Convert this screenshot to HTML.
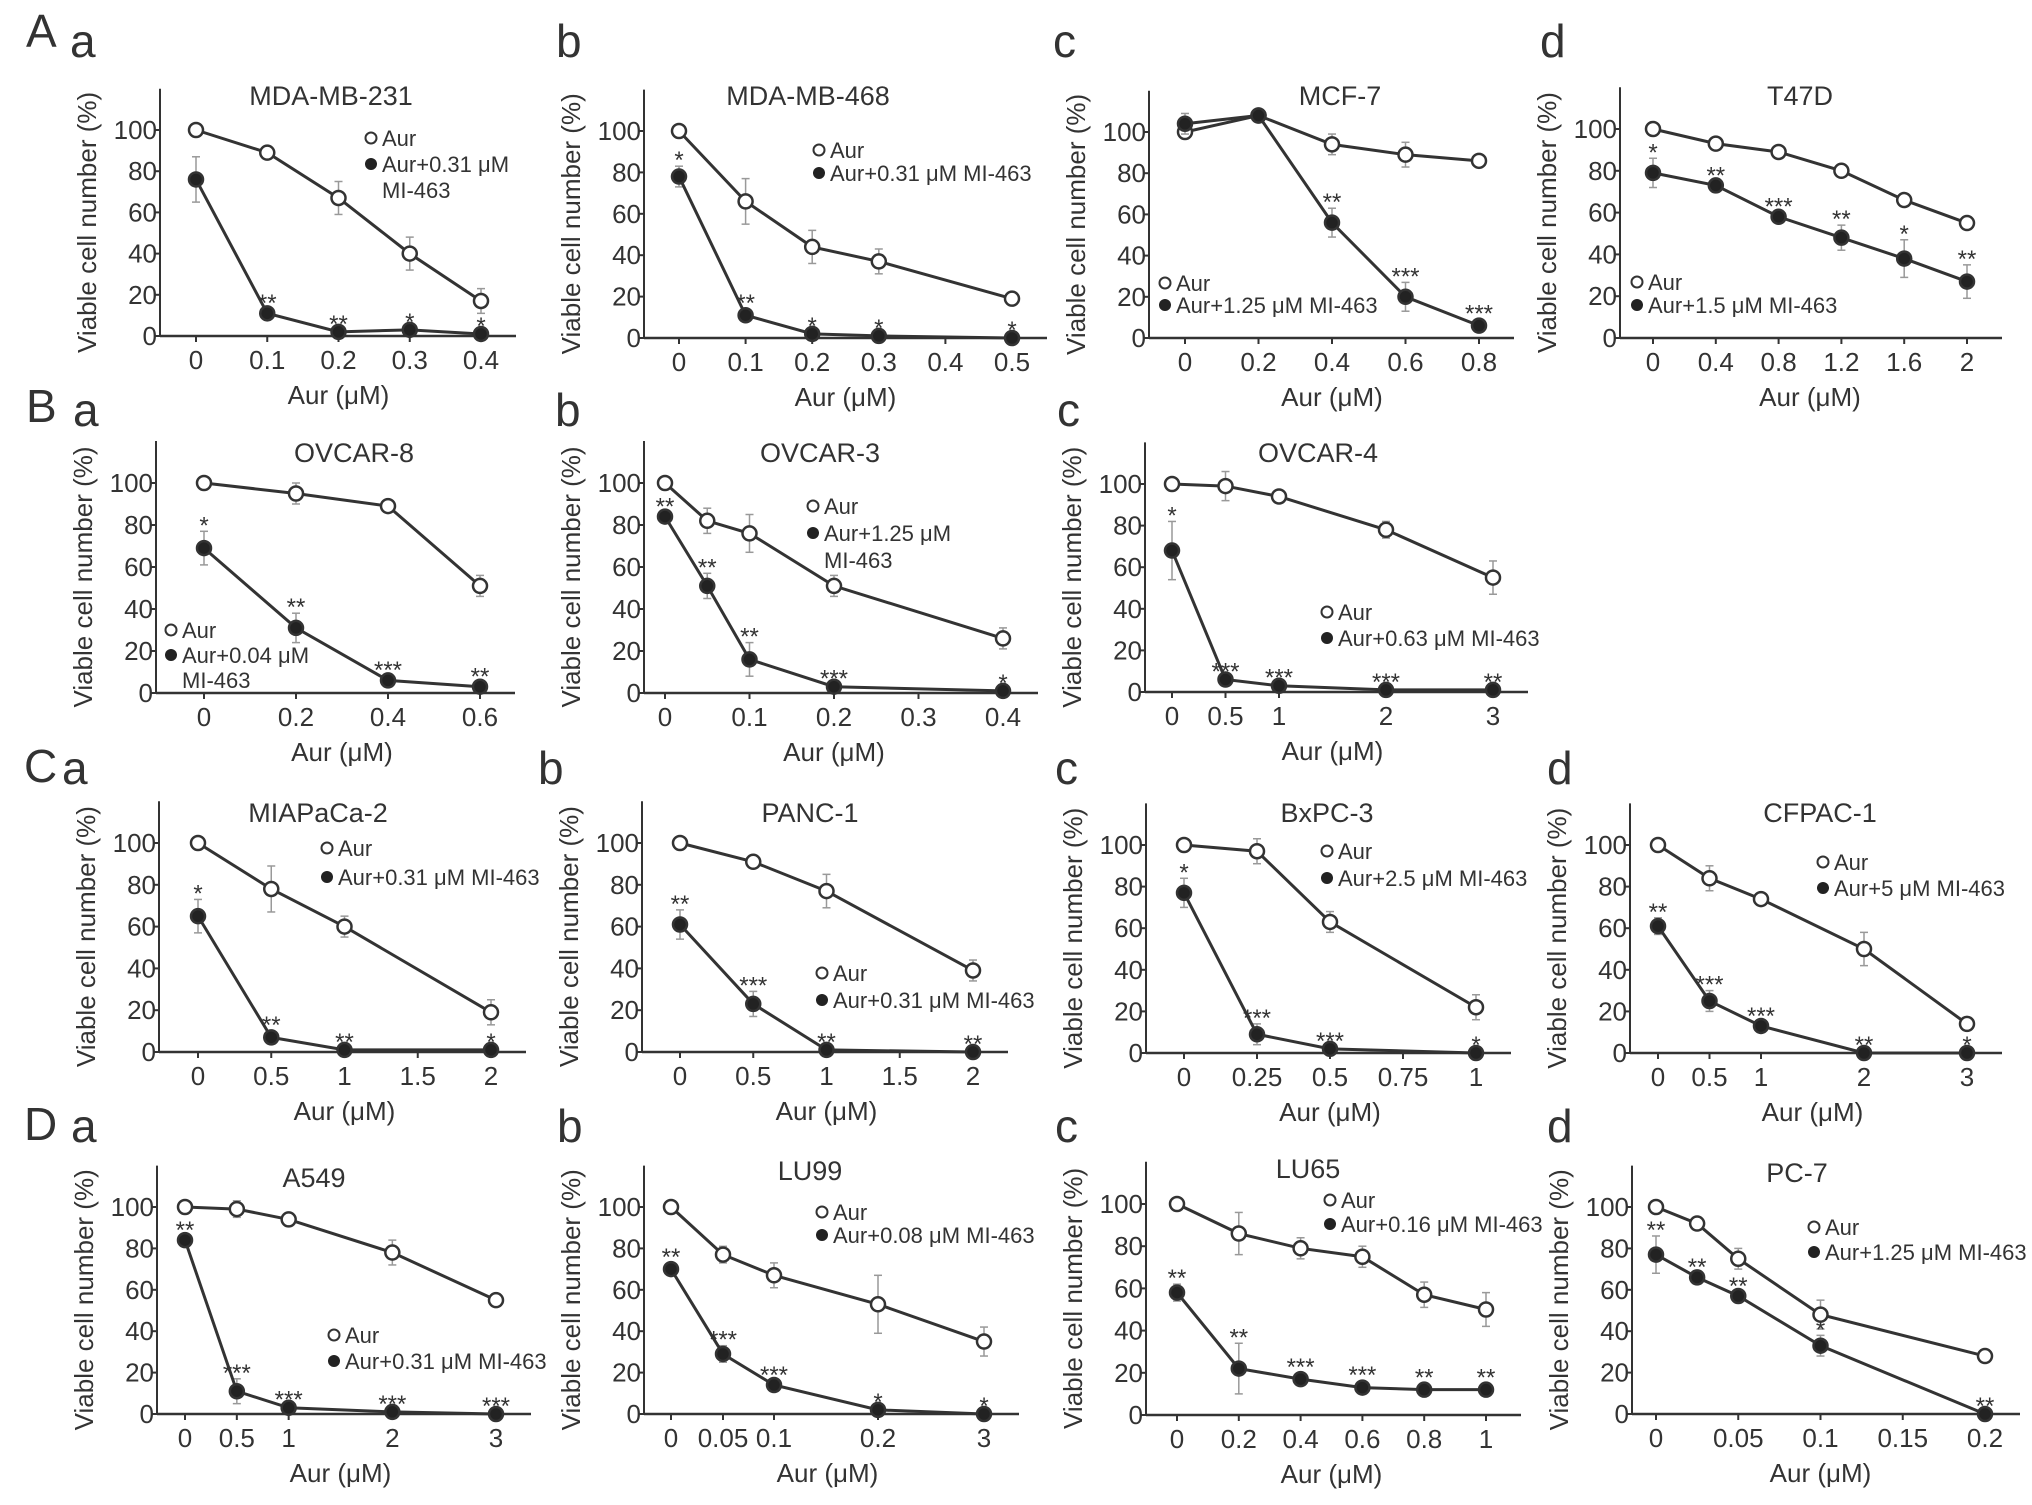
<!DOCTYPE html>
<html><head><meta charset="utf-8">
<style>
html,body{margin:0;padding:0;background:#fff;}
svg{display:block;font-family:"Liberation Sans",Arial,sans-serif;}
</style></head>
<body>
<svg id="fig" width="2032" height="1505" viewBox="0 0 2032 1505" xmlns="http://www.w3.org/2000/svg">
<rect width="2032" height="1505" fill="#fff"/>
<g id="letters" font-size="46" fill="#333">
<text x="26" y="47">A</text><text x="70" y="57">a</text><text x="556" y="57">b</text><text x="1053" y="57">c</text><text x="1540" y="57">d</text>
<text x="26" y="422">B</text><text x="73" y="426">a</text><text x="555" y="426">b</text><text x="1057" y="426">c</text>
<text x="24" y="782">C</text><text x="62" y="784">a</text><text x="538" y="784">b</text><text x="1055" y="784">c</text><text x="1547" y="784">d</text>
<text x="24" y="1140">D</text><text x="71" y="1142">a</text><text x="557" y="1142">b</text><text x="1055" y="1142">c</text><text x="1547" y="1142">d</text>
</g>
</svg>
<script>
// ---- data ----
const aaX=[0,0.1,0.2,0.3,0.4], aaOpen=[100,89,67,40,17], aaOpenErr=[1,2,8,8,6], aaFilled=[76,11,2,3,1], aaFilledErr=[11,2,1,1,1], aaStars=["","**","**","*","*"], aaTicks=[0,0.1,0.2,0.3,0.4];
const abX=[0,0.1,0.2,0.3,0.5], abOpen=[100,66,44,37,19], abOpenErr=[1,11,8,6,3], abFilled=[78,11,2,1,0], abFilledErr=[5,3,1,1,1], abStars=["*","**","*","*","*"], abTicks=[0,0.1,0.2,0.3,0.4,0.5];
const acX=[0,0.2,0.4,0.6,0.8], acOpen=[100,108,94,89,86], acOpenErr=[2,3,5,6,3], acFilled=[104,108,56,20,6], acFilledErr=[5,3,7,7,3], acStars=["","","**","***","***"], acTicks=[0,0.2,0.4,0.6,0.8];
const adX=[0,0.4,0.8,1.2,1.6,2], adOpen=[100,93,89,80,66,55], adOpenErr=[1,1,1,1,1,2], adFilled=[79,73,58,48,38,27], adFilledErr=[7,2,2,6,9,8], adStars=["*","**","***","**","*","**"], adTicks=[0,0.4,0.8,1.2,1.6,2];
const baX=[0,0.2,0.4,0.6], baOpen=[100,95,89,51], baOpenErr=[1,5,1,5], baFilled=[69,31,6,3], baFilledErr=[8,7,2,2], baStars=["*","**","***","**"], baTicks=[0,0.2,0.4,0.6];
const bbX=[0,0.05,0.1,0.2,0.4], bbOpen=[100,82,76,51,26], bbOpenErr=[1,6,9,5,5], bbFilled=[84,51,16,3,1], bbFilledErr=[2,6,8,1,1], bbStars=["**","**","**","***","*"], bbTicks=[0,0.1,0.2,0.3,0.4];
const bcX=[0,0.5,1,2,3], bcOpen=[100,99,94,78,55], bcOpenErr=[1,7,3,4,8], bcFilled=[68,6,3,1,1], bcFilledErr=[14,1,1,1,1], bcStars=["*","***","***","***","**"], bcTicks=[0,0.5,1,2,3];
const caX=[0,0.5,1,2], caOpen=[100,78,60,19], caOpenErr=[1,11,5,6], caFilled=[65,7,1,1], caFilledErr=[8,3,1,1], caStars=["*","**","**","*"], caTicks=[0,0.5,1,1.5,2];
const cbX=[0,0.5,1,2], cbOpen=[100,91,77,39], cbOpenErr=[1,2,8,5], cbFilled=[61,23,1,0], cbFilledErr=[7,6,1,1], cbStars=["**","***","**","**"], cbTicks=[0,0.5,1,1.5,2];
const ccX=[0,0.25,0.5,1], ccOpen=[100,97,63,22], ccOpenErr=[1,6,5,6], ccFilled=[77,9,2,0], ccFilledErr=[7,5,1,1], ccStars=["*","***","***","*"], ccTicks=[0,0.25,0.5,0.75,1];
const cdX=[0,0.5,1,2,3], cdOpen=[100,84,74,50,14], cdOpenErr=[1,6,3,8,3], cdFilled=[61,25,13,0,0], cdFilledErr=[4,5,2,1,1], cdStars=["**","***","***","**","*"], cdTicks=[0,0.5,1,2,3];
const daX=[0,0.5,1,2,3], daOpen=[100,99,94,78,55], daOpenErr=[1,4,1,6,1], daFilled=[84,11,3,1,0], daFilledErr=[2,6,1,1,1], daStars=["**","***","***","***","***"], daTicks=[0,0.5,1,2,3];
const dbX=[0,0.05,0.1,0.2,3], dbOpen=[100,77,67,53,35], dbOpenErr=[1,4,6,14,7], dbFilled=[70,29,14,2,0], dbFilledErr=[3,4,2,1,1], dbStars=["**","***","***","*","*"], dbTicks=[0,0.05,0.1,0.2,3];
const dcX=[0,0.2,0.4,0.6,0.8,1], dcOpen=[100,86,79,75,57,50], dcOpenErr=[1,10,5,5,6,8], dcFilled=[58,22,17,13,12,12], dcFilledErr=[4,12,3,3,3,3], dcStars=["**","**","***","***","**","**"], dcTicks=[0,0.2,0.4,0.6,0.8,1];
const ddX=[0,0.025,0.05,0.1,0.2], ddOpen=[100,92,75,48,28], ddOpenErr=[1,3,5,7,3], ddFilled=[77,66,57,33,0], ddFilledErr=[9,2,2,5,1], ddStars=["**","**","**","*","**"], ddTicks=[0,0.05,0.1,0.15,0.2];
const yTicks=[0,20,40,60,80,100];

// ---- layout (axis calibration) ----
const panels=[
{id:"aa",title:"MDA-MB-231",x:aaX,o:aaOpen,oe:aaOpenErr,f:aaFilled,fe:aaFilledErr,s:aaStars,t:aaTicks,ax:160,xd:[0,0.4],xr:[196,481],y0:336,y100:130,tx:331,ty:105,lx:371,ly:[138,164],leg:["Aur+0.31 μM","MI-463"]},
{id:"ab",title:"MDA-MB-468",x:abX,o:abOpen,oe:abOpenErr,f:abFilled,fe:abFilledErr,s:abStars,t:abTicks,ax:644,xd:[0,0.5],xr:[679,1012],y0:338,y100:131,tx:808,ty:105,lx:819,ly:[150,173],leg:["Aur+0.31 μM MI-463"]},
{id:"ac",title:"MCF-7",x:acX,o:acOpen,oe:acOpenErr,f:acFilled,fe:acFilledErr,s:acStars,t:acTicks,ax:1149,xd:[0,0.8],xr:[1185,1479],y0:338,y100:132,tx:1340,ty:105,lx:1165,ly:[283,305],leg:["Aur+1.25 μM MI-463"]},
{id:"ad",title:"T47D",x:adX,o:adOpen,oe:adOpenErr,f:adFilled,fe:adFilledErr,s:adStars,t:adTicks,ax:1620,xd:[0,2],xr:[1653,1967],y0:338,y100:129,tx:1800,ty:105,lx:1637,ly:[282,305],leg:["Aur+1.5 μM MI-463"]},
{id:"ba",title:"OVCAR-8",x:baX,o:baOpen,oe:baOpenErr,f:baFilled,fe:baFilledErr,s:baStars,t:baTicks,ax:156,xd:[0,0.6],xr:[204,480],y0:693,y100:483,tx:354,ty:462,lx:171,ly:[630,655],leg:["Aur+0.04 μM","MI-463"]},
{id:"bb",title:"OVCAR-3",x:bbX,o:bbOpen,oe:bbOpenErr,f:bbFilled,fe:bbFilledErr,s:bbStars,t:bbTicks,ax:644,xd:[0,0.4],xr:[665,1003],y0:693,y100:483,tx:820,ty:462,lx:813,ly:[506,533],leg:["Aur+1.25 μM","MI-463"]},
{id:"bc",title:"OVCAR-4",x:bcX,o:bcOpen,oe:bcOpenErr,f:bcFilled,fe:bcFilledErr,s:bcStars,t:bcTicks,ax:1145,xd:[0,3],xr:[1172,1493],y0:692,y100:484,tx:1318,ty:462,lx:1327,ly:[612,638],leg:["Aur+0.63 μM MI-463"]},
{id:"ca",title:"MIAPaCa-2",x:caX,o:caOpen,oe:caOpenErr,f:caFilled,fe:caFilledErr,s:caStars,t:caTicks,ax:159,xd:[0,2],xr:[198,491],y0:1052,y100:843,tx:318,ty:822,lx:327,ly:[848,877],leg:["Aur+0.31 μM MI-463"]},
{id:"cb",title:"PANC-1",x:cbX,o:cbOpen,oe:cbOpenErr,f:cbFilled,fe:cbFilledErr,s:cbStars,t:cbTicks,ax:642,xd:[0,2],xr:[680,973],y0:1052,y100:843,tx:810,ty:822,lx:822,ly:[973,1000],leg:["Aur+0.31 μM MI-463"]},
{id:"cc",title:"BxPC-3",x:ccX,o:ccOpen,oe:ccOpenErr,f:ccFilled,fe:ccFilledErr,s:ccStars,t:ccTicks,ax:1146,xd:[0,1],xr:[1184,1476],y0:1053,y100:845,tx:1327,ty:822,lx:1327,ly:[851,878],leg:["Aur+2.5 μM MI-463"]},
{id:"cd",title:"CFPAC-1",x:cdX,o:cdOpen,oe:cdOpenErr,f:cdFilled,fe:cdFilledErr,s:cdStars,t:cdTicks,ax:1630,xd:[0,3],xr:[1658,1967],y0:1053,y100:845,tx:1820,ty:822,lx:1823,ly:[862,888],leg:["Aur+5 μM MI-463"]},
{id:"da",title:"A549",x:daX,o:daOpen,oe:daOpenErr,f:daFilled,fe:daFilledErr,s:daStars,t:daTicks,ax:157,xd:[0,3],xr:[185,496],y0:1414,y100:1207,tx:314,ty:1187,lx:334,ly:[1335,1361],leg:["Aur+0.31 μM MI-463"]},
{id:"db",title:"LU99",x:dbX,o:dbOpen,oe:dbOpenErr,f:dbFilled,fe:dbFilledErr,s:dbStars,t:dbTicks,ax:644,xd:[0,0.05,0.1,0.2,3],xr:[671,723,774,878,984],y0:1414,y100:1207,tx:810,ty:1180,lx:822,ly:[1212,1235],leg:["Aur+0.08 μM MI-463"]},
{id:"dc",title:"LU65",x:dcX,o:dcOpen,oe:dcOpenErr,f:dcFilled,fe:dcFilledErr,s:dcStars,t:dcTicks,ax:1146,xd:[0,1],xr:[1177,1486],y0:1415,y100:1204,tx:1308,ty:1178,lx:1330,ly:[1200,1224],leg:["Aur+0.16 μM MI-463"]},
{id:"dd",title:"PC-7",x:ddX,o:ddOpen,oe:ddOpenErr,f:ddFilled,fe:ddFilledErr,s:ddStars,t:ddTicks,ax:1632,xd:[0,0.2],xr:[1656,1985],y0:1414,y100:1207,tx:1797,ty:1182,lx:1814,ly:[1227,1252],leg:["Aur+1.25 μM MI-463"]}
];

const NS="http://www.w3.org/2000/svg";
const svg=document.getElementById("fig");
function mk(tag,attrs,parent){const e=document.createElementNS(NS,tag);for(const k in attrs)e.setAttribute(k,attrs[k]);parent.appendChild(e);return e;}
function txt(s,attrs,parent){const e=mk("text",attrs,parent);e.textContent=s;return e;}
function pw(d,r,v){ // piecewise linear scale
  let i=0; while(i<d.length-2 && v>d[i+1]) i++;
  return r[i]+(v-d[i])*(r[i+1]-r[i])/(d[i+1]-d[i]);
}
const INK="#333";

panels.forEach(p=>{
  const g=mk("g",{},svg);
  
  
  const xs=v=>pw(p.xd,p.xr,v);
  const ys=v=>p.y0+(p.y100-p.y0)*v/100;
  const yTop=ys(120);
  const xEnd=p.xr[p.xr.length-1]+35;
  // axes
  const yAxis=mk("line",{x1:p.ax,y1:yTop,x2:p.ax,y2:p.y0,stroke:INK,"stroke-width":2},g);
  
  
  const xAxis=mk("line",{x1:p.ax,y1:p.y0,x2:xEnd,y2:p.y0,stroke:INK,"stroke-width":2.5},g);
  
  
  yTicks.forEach(v=>{
    mk("line",{x1:p.ax-5,y1:ys(v),x2:p.ax,y2:ys(v),stroke:INK,"stroke-width":2},g);
    const t=txt(String(v),{x:p.ax-3,y:ys(v)+9,"text-anchor":"end","font-size":26,fill:INK},g);
    
    
  });
  p.t.forEach(v=>{
    mk("line",{x1:xs(v),y1:p.y0,x2:xs(v),y2:p.y0+6,stroke:INK,"stroke-width":2},g);
    const t=txt(String(v),{x:xs(v),y:p.y0+33,"text-anchor":"middle","font-size":26,fill:INK},g);
    
    
  });
  const xl=txt("Aur (μM)",{x:(p.xr[0]+p.xr[p.xr.length-1])/2,y:p.y0+68,"text-anchor":"middle","font-size":26,fill:INK},g);
  
  
  const yc=(p.y0+yTop)/2+10, yx=p.ax-64;
  const yl=txt("Viable cell number (%)",{x:yx,y:yc,"text-anchor":"middle","font-size":26,fill:INK,transform:`rotate(-90 ${yx} ${yc})`},g);
  
  
  const tt=txt(p.title,{x:p.tx,y:p.ty,"text-anchor":"middle","font-size":27,fill:INK},g);
  
  
  // series
  [["open",p.o,p.oe],["filled",p.f,p.fe]].forEach(([kind,vals,errs])=>{
    const sg=mk("g",{},g);
    
    
    vals.forEach((v,i)=>{
      const x=xs(p.x[i]);
      mk("line",{x1:x,y1:ys(v-errs[i]),x2:x,y2:ys(v+errs[i]),stroke:"#999","stroke-width":1.5},sg);
      mk("line",{x1:x-4,y1:ys(v+errs[i]),x2:x+4,y2:ys(v+errs[i]),stroke:"#999","stroke-width":1.5},sg);
      mk("line",{x1:x-4,y1:ys(v-errs[i]),x2:x+4,y2:ys(v-errs[i]),stroke:"#999","stroke-width":1.5},sg);
    });
    const pts=vals.map((v,i)=>xs(p.x[i])+","+ys(v)).join(" ");
    const pl=mk("polyline",{points:pts,fill:"none",stroke:INK,"stroke-width":3},sg);
    
    
    vals.forEach((v,i)=>{
      const c=mk("circle",{cx:xs(p.x[i]),cy:ys(v),r:7,fill:kind==="open"?"#fff":"#222",stroke:INK,"stroke-width":2.5},sg);
      
      
    });
  });
  // stars
  p.s.forEach((s,i)=>{
    if(!s) return;
    const st=txt(s,{x:xs(p.x[i]),y:ys(p.f[i]+p.fe[i])+2,"text-anchor":"middle","font-size":24,fill:INK},g);
    
    
  });
  // legend
  const lg=mk("g",{},g);
  
  
  mk("circle",{cx:p.lx,cy:p.ly[0],r:5.5,fill:"#fff",stroke:INK,"stroke-width":2},lg);
  txt("Aur",{x:p.lx+11,y:p.ly[0]+8,"font-size":22,fill:INK},lg);
  mk("circle",{cx:p.lx,cy:p.ly[1],r:6,fill:"#222"},lg);
  txt(p.leg[0],{x:p.lx+11,y:p.ly[1]+8,"font-size":22,fill:INK},lg);
  if(p.leg[1]) txt(p.leg[1],{x:p.lx+11,y:p.ly[1]+8+(p.ly[1]-p.ly[0]),"font-size":22,fill:INK},lg);
});
</script>
</body></html>
